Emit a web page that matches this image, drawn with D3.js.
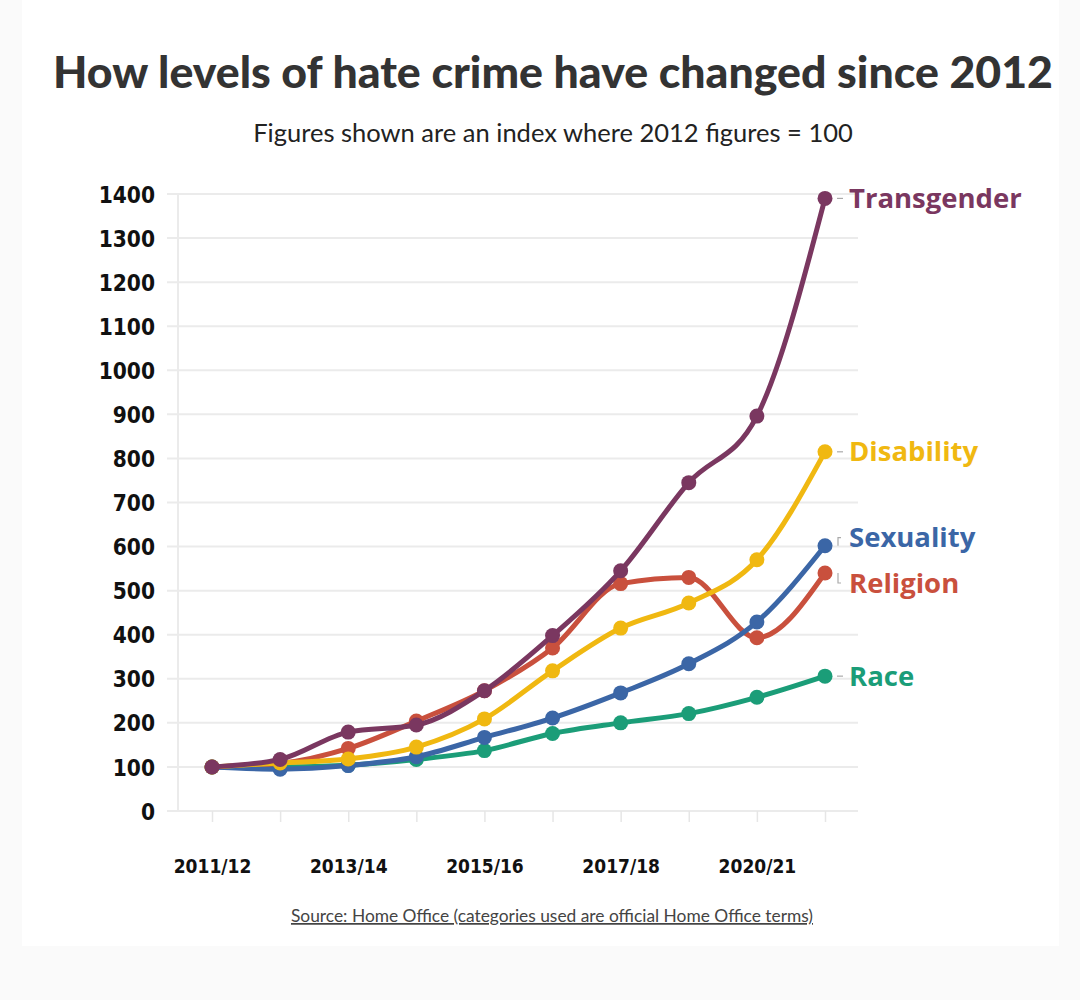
<!DOCTYPE html>
<html>
<head>
<meta charset="utf-8">
<script src="https://cdn.jsdelivr.net/npm/d3@7"></script>
<style>
  html, body { margin: 0; padding: 0; background: #fafafa; }
  svg { display: block; }
</style>
</head>
<body>
<svg id="chart" width="1080" height="1000"></svg>
<script>
// ---- Data ----
const categories = ["2011/12","2012/13","2013/14","2014/15","2015/16","2016/17","2017/18","2018/19","2020/21","2021/22"];
const shownTickLabels = ["2011/12","2013/14","2015/16","2017/18","2020/21"];
const yTicks = [0,100,200,300,400,500,600,700,800,900,1000,1100,1200,1300,1400];

const seriesNames = ["Race","Religion","Sexuality","Disability","Transgender"];
const race        = [100, 100, 104, 117, 137, 176, 200, 221, 258, 306];
const religion    = [100, 108, 142, 204, 273, 370, 516, 530, 393, 540];
const sexuality   = [100,  95, 103, 123, 167, 211, 268, 334, 429, 602];
const disability  = [100, 109, 118, 145, 209, 318, 415, 472, 570, 815];
const transgender = [100, 117, 179, 195, 273, 398, 545, 745, 896, 1390];
const seriesValues = [race, religion, sexuality, disability, transgender];
const seriesColors = ["#1b9d78","#c9503d","#3b66a6","#f0b811","#7a3760"];
// label vertical offsets (px) from the last point, to avoid overlap
const labelOffsets = [0, 10, -8, 0, 0];

const titleText = "How levels of hate crime have changed since 2012";
const subtitleText = "Figures shown are an index where 2012 figures = 100";
const sourceText = "Source: Home Office (categories used are official Home Office terms)";

// ---- Layout ----
const svg = d3.select("#chart");
svg.append("rect").attr("x", 22).attr("y", 0).attr("width", 1037).attr("height", 946).attr("fill", "#ffffff");

const x = d3.scalePoint().domain(categories).range([212, 825]);
const y = d3.scaleLinear().domain([0, 1400]).range([811, 194]);

function fitText(sel, targetWidth) {
  const node = sel.node();
  const w = node.getComputedTextLength();
  const fs = parseFloat(sel.attr("font-size"));
  sel.attr("font-size", (fs * targetWidth / w).toFixed(2));
}

// Title
const title = svg.append("text")
  .attr("x", 553).attr("y", 88)
  .attr("text-anchor", "middle")
  .attr("font-family", "Lato, 'Open Sans', sans-serif")
  .attr("font-weight", 900)
  .attr("font-size", 44)
  .attr("fill", "#333333")
  .text(titleText);
fitText(title, 1000);

const subtitle = svg.append("text")
  .attr("x", 553).attr("y", 142)
  .attr("text-anchor", "middle")
  .attr("font-family", "Lato, 'Open Sans', sans-serif")
  .attr("font-weight", 400)
  .attr("font-size", 22)
  .attr("fill", "#222222")
  .text(subtitleText);
fitText(subtitle, 600);

// Gridlines
const grid = svg.append("g");
grid.selectAll("line")
  .data(yTicks)
  .join("line")
  .attr("x1", 167).attr("x2", 858)
  .attr("y1", d => y(d)).attr("y2", d => y(d))
  .attr("stroke", "#ebebeb")
  .attr("stroke-width", 2);

// y axis line
svg.append("line")
  .attr("x1", 178).attr("x2", 178)
  .attr("y1", y(1400)).attr("y2", y(0))
  .attr("stroke", "#ebebeb").attr("stroke-width", 2);

// Y axis labels
const yAxis = d3.axisLeft(y).tickValues(yTicks).tickSize(0).tickPadding(0).tickFormat(d3.format("d"));
const yg = svg.append("g").attr("transform", "translate(155,0)").call(yAxis);
yg.select(".domain").remove();
yg.selectAll("text")
  .attr("font-family", "'DejaVu Sans Condensed', 'DejaVu Sans', sans-serif")
  .attr("font-weight", 700)
  .attr("font-size", 22.5)
  .attr("fill", "#111111")
  .attr("dy", "0.36em");

// X axis ticks
const xAxis = d3.axisBottom(x).tickSize(11).tickPadding(38)
  .tickFormat(d => shownTickLabels.includes(d) ? d : "");
const xg = svg.append("g").attr("transform", `translate(0,${y(0)})`).call(xAxis);
xg.select(".domain").remove();
xg.selectAll(".tick line").attr("stroke", "#e6e6e6").attr("stroke-width", 1.5);
xg.selectAll("text")
  .attr("font-family", "'DejaVu Sans Condensed', 'DejaVu Sans', sans-serif")
  .attr("font-weight", 700)
  .attr("font-size", 19)
  .attr("fill", "#111111");

// Lines
const line = d3.line()
  .x((d, i) => x(categories[i]))
  .y(d => y(d))
  .curve(d3.curveMonotoneX);

const sg = svg.append("g");
seriesValues.forEach((vals, si) => {
  const g = sg.append("g");
  g.append("path")
    .datum(vals)
    .attr("d", line)
    .attr("fill", "none")
    .attr("stroke", seriesColors[si])
    .attr("stroke-width", 5)
    .attr("stroke-linejoin", "round")
    .attr("stroke-linecap", "round");
  g.selectAll("circle")
    .data(vals)
    .join("circle")
    .attr("cx", (d, i) => x(categories[i]))
    .attr("cy", d => y(d))
    .attr("r", 7.5)
    .attr("fill", seriesColors[si]);
});

// Series labels with leader lines
const lastCat = categories[categories.length - 1];
seriesValues.forEach((vals, si) => {
  const px = x(lastCat);
  const py = y(vals[vals.length - 1]);
  const ly = py + labelOffsets[si];
  const leader = labelOffsets[si] === 0
    ? `M${px + 12},${py} L${px + 18},${py}`
    : `M${px + 13},${py} L${px + 13},${ly} L${px + 16},${ly}`;
  svg.append("path")
    .attr("d", leader)
    .attr("fill", "none")
    .attr("stroke", "#aaaaaa")
    .attr("stroke-width", 1.2);
  svg.append("text")
    .attr("x", px + 24)
    .attr("y", ly)
    .attr("dy", "0.35em")
    .attr("font-family", "'Open Sans', Lato, sans-serif")
    .attr("font-weight", 700)
    .attr("font-size", 27.5)
    .attr("fill", seriesColors[si])
    .text(seriesNames[si]);
});

// Source
const src = svg.append("text")
  .attr("x", 552).attr("y", 922)
  .attr("text-anchor", "middle")
  .attr("font-family", "Lato, 'Open Sans', sans-serif")
  .attr("font-size", 16)
  .attr("fill", "#444444")
  .attr("text-decoration", "underline")
  .text(sourceText);
fitText(src, 522);
</script>
</body>
</html>
